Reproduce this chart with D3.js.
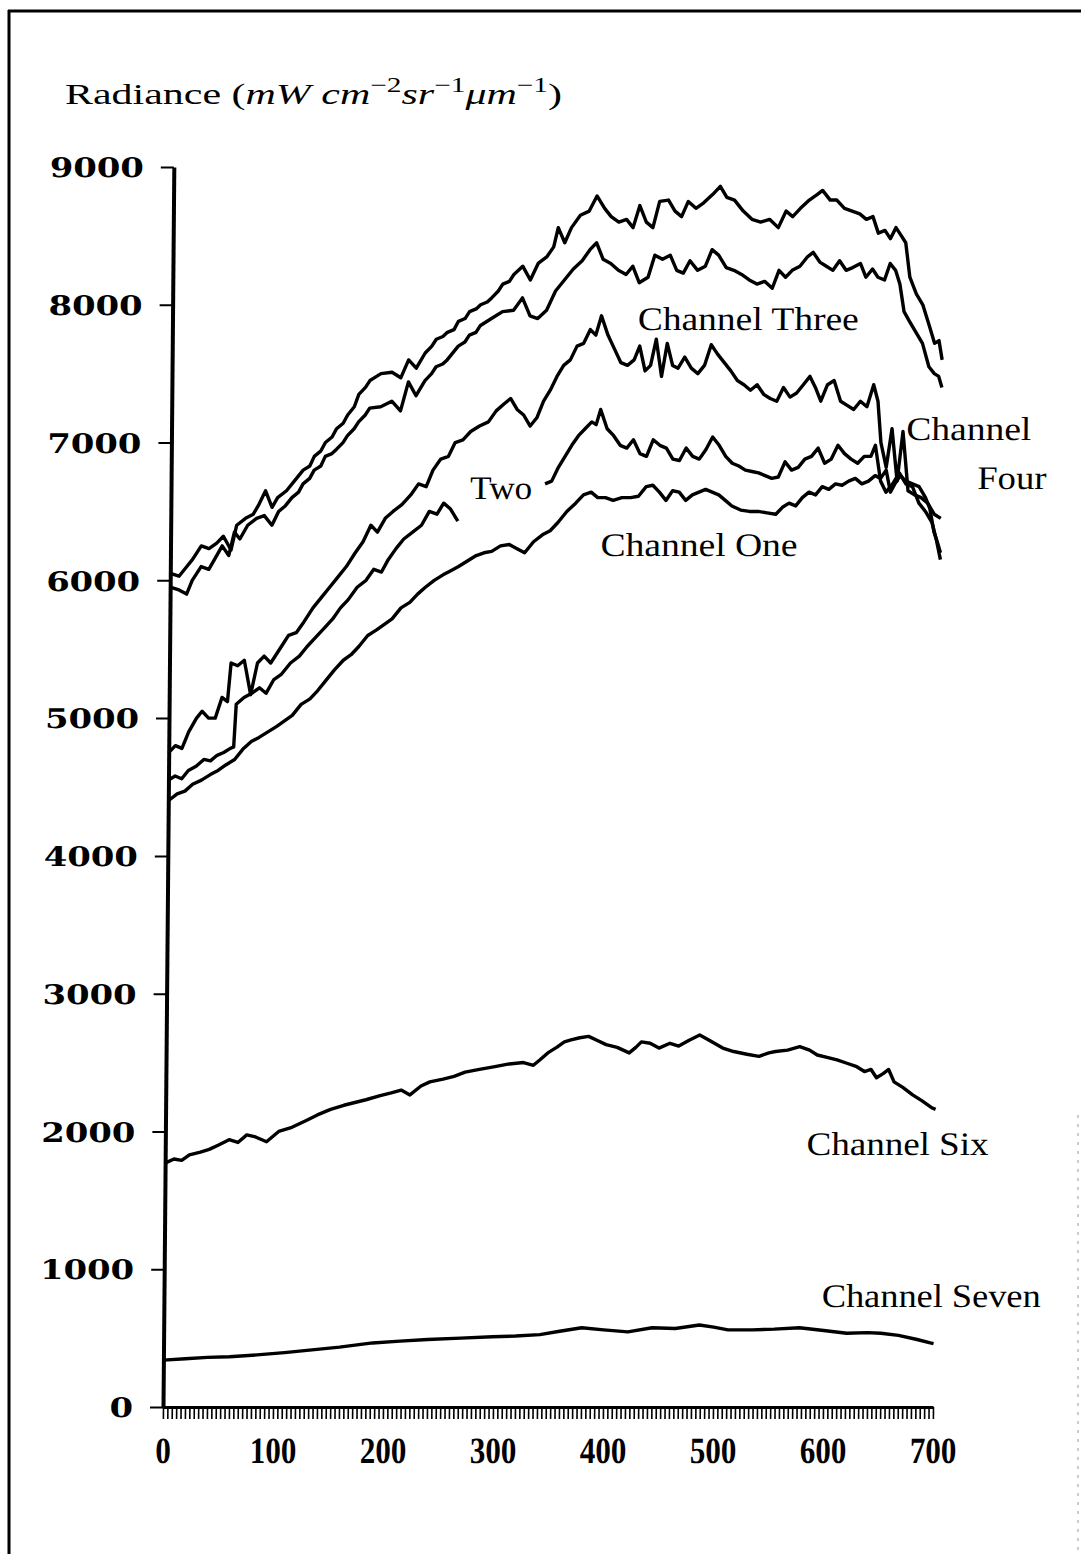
<!DOCTYPE html>
<html>
<head>
<meta charset="utf-8">
<script src="https://cdn.jsdelivr.net/npm/d3@7"></script>
<style>
  body { margin: 0; background: #fff; }
  svg { display: block; }
  .serif { font-family: "Liberation Serif", "DejaVu Serif", serif; }
</style>
</head>
<body>
<svg id="chart" width="1081" height="1554"></svg>
<script>
// tick labels
const xTickLabels = [0, 100, 200, 300, 400, 500, 600, 700];
const yTickLabels = [0, 1000, 2000, 3000, 4000, 5000, 6000, 7000, 8000, 9000];

// traces, [pixel index, radiance]
const channelFive = [
  [0, 6050], [8, 6030], [15, 6100], [20, 6150], [28, 6250], [35, 6230], [42, 6270], [48, 6320], [55, 6220],
  [60, 6400], [68, 6450], [75, 6480], [80, 6550], [86, 6650], [92, 6530], [97, 6600], [105, 6650],
  [112, 6720], [120, 6800], [126, 6830], [130, 6900], [136, 6940], [140, 7000], [146, 7040], [150, 7100],
  [156, 7140], [160, 7200], [166, 7260], [170, 7350], [176, 7400], [180, 7450], [186, 7480], [190, 7500],
  [200, 7510], [208, 7470], [215, 7600], [222, 7540], [230, 7650], [236, 7700],
  [240, 7750], [246, 7770], [250, 7800], [256, 7820], [260, 7880], [266, 7900], [270, 7950], [276, 7970],
  [280, 8000], [286, 8020], [290, 8050], [296, 8100], [300, 8150], [306, 8170],
  [310, 8220], [318, 8280], [325, 8180], [332, 8300], [340, 8350], [346, 8420], [350, 8560],
  [356, 8450], [362, 8560], [370, 8650], [378, 8680], [385, 8790], [392, 8700], [398, 8640],
  [405, 8600], [412, 8620], [418, 8560], [424, 8720], [430, 8600], [436, 8560], [442, 8750],
  [450, 8760], [456, 8680], [462, 8640], [468, 8750], [475, 8700], [482, 8740], [490, 8800],
  [497, 8860], [503, 8780], [510, 8760], [518, 8680], [526, 8620], [534, 8600], [542, 8620],
  [550, 8560], [557, 8680], [563, 8640], [570, 8700], [578, 8760], [585, 8800], [590, 8830],
  [597, 8760], [603, 8760], [610, 8700], [617, 8680], [624, 8660], [630, 8620], [636, 8640],
  [641, 8520], [647, 8540], [652, 8480], [657, 8560], [662, 8500], [666, 8450], [670, 8200],
  [676, 8080], [682, 8000], [688, 7850], [693, 7720], [697, 7740], [700, 7600]
];

const channelThree = [
  [0, 5950], [8, 5930], [15, 5900], [20, 6000], [28, 6100], [35, 6080], [40, 6150], [47, 6250],
  [53, 6180], [58, 6350], [63, 6300], [70, 6400], [78, 6450], [85, 6470], [92, 6400], [98, 6500],
  [104, 6540], [110, 6600], [116, 6640], [120, 6700], [126, 6740], [130, 6800], [136, 6830], [140, 6900],
  [146, 6920], [150, 6950], [156, 7000], [160, 7050], [166, 7100], [170, 7150], [176, 7200],
  [180, 7250], [190, 7260], [200, 7300], [208, 7230], [215, 7440], [222, 7340], [230, 7450],
  [236, 7500], [240, 7550], [246, 7570], [250, 7600], [256, 7660], [260, 7700], [266, 7730],
  [270, 7780], [276, 7800], [280, 7850], [290, 7900], [300, 7950],
  [310, 7960], [318, 8050], [325, 7920], [332, 7900], [340, 7960], [348, 8100], [356, 8180],
  [364, 8260], [372, 8320], [379, 8400], [385, 8450], [391, 8330], [398, 8300], [405, 8250],
  [412, 8220], [418, 8280], [424, 8160], [432, 8200], [438, 8360], [445, 8330], [452, 8360],
  [458, 8250], [464, 8230], [470, 8320], [477, 8250], [484, 8280], [490, 8400], [496, 8360],
  [503, 8270], [510, 8250], [517, 8220], [524, 8180], [531, 8150], [538, 8170], [545, 8120],
  [551, 8250], [557, 8200], [563, 8250], [570, 8280], [577, 8350], [582, 8380], [588, 8310],
  [594, 8280], [600, 8250], [606, 8320], [612, 8250], [618, 8270], [625, 8300], [630, 8200],
  [636, 8260], [641, 8200], [647, 8180], [652, 8300], [657, 8250], [661, 8150], [665, 7950],
  [670, 7880], [676, 7800], [682, 7720], [688, 7550], [693, 7500], [697, 7480], [700, 7400]
];

const channelFour = [
  [0, 4750], [6, 4800], [12, 4780], [18, 4900], [25, 5000], [30, 5050], [36, 5000], [42, 5000],
  [48, 5150], [53, 5120], [56, 5400], [62, 5380], [68, 5420], [74, 5170], [80, 5400], [86, 5450],
  [92, 5400], [100, 5500], [108, 5600], [115, 5620], [122, 5700], [130, 5800], [138, 5880],
  [145, 5950], [152, 6020], [160, 6100], [168, 6200], [175, 6280], [182, 6400], [188, 6350],
  [195, 6450], [202, 6500], [210, 6550], [218, 6620], [225, 6700], [232, 6680], [238, 6800],
  [245, 6880], [252, 6900], [258, 7000], [265, 7020], [272, 7080], [280, 7120], [288, 7150],
  [295, 7230], [302, 7280], [308, 7320], [314, 7240], [320, 7200], [326, 7120], [332, 7180],
  [338, 7300], [344, 7380], [350, 7480], [356, 7560], [362, 7600], [368, 7700], [374, 7720],
  [380, 7820], [385, 7780], [390, 7920], [396, 7780], [402, 7680], [408, 7580], [414, 7560],
  [420, 7600], [425, 7700], [430, 7520], [435, 7560], [440, 7750], [445, 7480], [450, 7720],
  [455, 7560], [460, 7540], [466, 7620], [472, 7540], [478, 7500], [484, 7560], [490, 7710],
  [496, 7640], [502, 7580], [508, 7520], [514, 7450], [520, 7420], [526, 7380], [532, 7420],
  [538, 7350], [544, 7320], [550, 7300], [556, 7400], [562, 7330], [568, 7360], [574, 7420],
  [580, 7480], [585, 7400], [590, 7300], [596, 7420], [602, 7450], [608, 7300], [614, 7270],
  [620, 7240], [626, 7300], [632, 7260], [638, 7420], [642, 7300], [645, 7000], [650, 6820],
  [655, 7100], [660, 6720], [665, 7080], [670, 6650], [676, 6620], [682, 6600], [688, 6560],
  [694, 6480], [700, 6450]
];

// null marks the break left for the "Two" label
const channelTwo = [
  [0, 4550], [6, 4580], [12, 4560], [18, 4620], [25, 4650], [32, 4700], [38, 4690], [44, 4730],
  [50, 4750], [56, 4780], [59, 4790], [61, 5100], [68, 5150], [75, 5180], [82, 5220], [88, 5180],
  [95, 5280], [102, 5320], [110, 5400], [118, 5450], [125, 5520], [132, 5580], [140, 5650],
  [148, 5720], [155, 5800], [162, 5860], [170, 5950], [178, 6000], [185, 6080], [192, 6060],
  [198, 6150], [205, 6230], [212, 6300], [220, 6350], [228, 6400], [235, 6500], [242, 6480],
  [248, 6560], [254, 6520], [261, 6430], [262, null],
  [338, null], [340, 6700], [346, 6720], [352, 6820], [358, 6900], [364, 6980], [370, 7050],
  [376, 7100], [382, 7150], [386, 7130], [390, 7240], [396, 7100], [402, 7050], [408, 6980],
  [414, 6960], [420, 7020], [426, 6920], [432, 6900], [438, 7020], [444, 6980], [450, 6960],
  [456, 6880], [462, 6870], [468, 6960], [474, 6900], [480, 6880], [486, 6950], [492, 7040],
  [498, 6980], [504, 6900], [510, 6850], [516, 6830], [522, 6800], [528, 6790], [534, 6780],
  [540, 6760], [546, 6740], [552, 6750], [558, 6860], [564, 6800], [570, 6820], [576, 6880],
  [582, 6900], [588, 6960], [594, 6850], [600, 6880], [606, 6980], [612, 6920], [618, 6880],
  [624, 6850], [630, 6900], [636, 6900], [640, 6980], [645, 6720], [650, 6640], [656, 6700],
  [662, 6780], [668, 6700], [674, 6680], [680, 6560], [686, 6500], [692, 6420], [696, 6300],
  [700, 6150]
];

const channelOne = [
  [0, 4400], [8, 4450], [15, 4470], [22, 4520], [30, 4550], [38, 4590], [45, 4620], [52, 4660],
  [60, 4700], [68, 4780], [75, 4830], [82, 4860], [90, 4900], [98, 4940], [105, 4980], [112, 5020],
  [120, 5100], [128, 5140], [135, 5200], [142, 5270], [150, 5350], [158, 5420], [165, 5460],
  [172, 5520], [180, 5600], [188, 5640], [195, 5680], [202, 5720], [210, 5800], [218, 5840],
  [225, 5900], [232, 5950], [240, 6000], [248, 6040], [255, 6070], [262, 6100], [270, 6140],
  [278, 6180], [285, 6200], [292, 6210], [300, 6250], [308, 6260], [315, 6230], [322, 6200],
  [330, 6280], [338, 6330], [345, 6360], [352, 6420], [360, 6500], [368, 6560], [375, 6620],
  [382, 6640], [388, 6600], [395, 6600], [402, 6580], [410, 6600], [418, 6600], [425, 6610],
  [432, 6680], [438, 6690], [444, 6640], [450, 6580], [456, 6650], [462, 6640], [468, 6580],
  [474, 6620], [480, 6640], [486, 6660], [492, 6640], [498, 6620], [504, 6580], [510, 6540],
  [518, 6510], [526, 6500], [534, 6500], [542, 6490], [550, 6480], [556, 6530], [562, 6560],
  [568, 6540], [574, 6600], [580, 6640], [586, 6620], [592, 6680], [598, 6660], [604, 6700],
  [610, 6690], [616, 6720], [622, 6740], [628, 6700], [634, 6720], [640, 6760], [645, 6740],
  [650, 6800], [654, 6640], [658, 6700], [663, 6760], [668, 6720], [674, 6700], [680, 6680],
  [686, 6600], [690, 6520], [694, 6350], [697, 6280], [700, 6200]
];

const channelSix = [
  [0, 1770], [8, 1800], [15, 1790], [22, 1830], [32, 1850], [40, 1870], [48, 1900], [58, 1940],
  [66, 1920], [74, 1975], [82, 1960], [92, 1925], [103, 2000], [115, 2030], [128, 2080],
  [138, 2120], [150, 2160], [162, 2190], [172, 2210], [182, 2230], [195, 2260], [205, 2280],
  [214, 2300], [222, 2265], [232, 2330], [240, 2360], [252, 2380], [262, 2400], [272, 2430],
  [285, 2450], [299, 2470], [312, 2490], [325, 2500], [334, 2480], [340, 2520], [347, 2570],
  [355, 2610], [362, 2650], [368, 2665], [376, 2680], [384, 2690], [392, 2660], [400, 2630],
  [410, 2610], [421, 2570], [427, 2610], [432, 2650], [440, 2640], [448, 2605], [458, 2640],
  [466, 2620], [475, 2660], [485, 2700], [494, 2660], [506, 2605], [516, 2580], [528, 2560],
  [539, 2545], [548, 2570], [554, 2580], [565, 2590], [576, 2615], [585, 2590], [592, 2555],
  [600, 2540], [610, 2520], [619, 2495], [628, 2470], [635, 2435], [641, 2450], [646, 2390],
  [652, 2420], [657, 2450], [662, 2360], [670, 2320], [679, 2265], [688, 2220], [697, 2170],
  [700, 2160]
];

const channelSeven = [
  [0, 340], [20, 350], [40, 360], [60, 365], [85, 378], [110, 395], [135, 415], [160, 435],
  [190, 465], [215, 478], [240, 490], [270, 500], [299, 510], [320, 515], [342, 525], [360, 550],
  [380, 575], [400, 560], [422, 545], [444, 575], [465, 570], [487, 595], [500, 580],
  [513, 560], [535, 560], [555, 565], [578, 575], [600, 555], [621, 535], [640, 540],
  [652, 535], [668, 520], [685, 490], [697, 465], [700, 460]
];

const traces = [channelFive, channelThree, channelFour, channelTwo, channelOne, channelSix, channelSeven];

// curve labels, anchored in data space
const curveLabels = [
  { text: "Channel Three", x: 423, y: 7820, w: 221 },
  { text: "Channel", x: 668, y: 7022, w: 125 },
  { text: "Four", x: 733, y: 6660, w: 69 },
  { text: "Two", x: 272, y: 6587, w: 62 },
  { text: "Channel One", x: 391, y: 6173, w: 197 },
  { text: "Channel Six", x: 583, y: 1830, w: 182 },
  { text: "Channel Seven", x: 598, y: 726, w: 219 }
];

const svg = d3.select("#chart");
const baseY = 1407;

// frame of the scanned page
svg.append("line").attr("x1", 8).attr("x2", 1081).attr("y1", 11).attr("y2", 11)
  .attr("stroke", "#000").attr("stroke-width", 3);
svg.append("line").attr("x1", 9).attr("x2", 9).attr("y1", 10).attr("y2", 1554)
  .attr("stroke", "#000").attr("stroke-width", 3);
svg.append("line").attr("x1", 1078).attr("x2", 1078).attr("y1", 1115).attr("y2", 1554)
  .attr("stroke", "#999").attr("stroke-width", 1).attr("stroke-dasharray", "3,6");

// title
const title = svg.append("text").attr("class", "serif")
  .attr("x", 65).attr("y", 104).attr("font-size", 30).attr("fill", "#000")
  .attr("textLength", 497).attr("lengthAdjust", "spacingAndGlyphs");
title.append("tspan").text("Radiance (");
title.append("tspan").attr("font-style", "italic").text("mW cm");
title.append("tspan").attr("font-size", 21).attr("dy", -12).text("−2");
title.append("tspan").attr("font-style", "italic").attr("dy", 12).text("sr");
title.append("tspan").attr("font-size", 21).attr("dy", -12).text("−1");
title.append("tspan").attr("font-style", "italic").attr("dy", 12).text("μm");
title.append("tspan").attr("font-size", 21).attr("dy", -12).text("−1");
title.append("tspan").attr("dy", 12).text(")");

// the scan is slightly sheared, so the plot leans a little
const g = svg.append("g")
  .attr("transform", `translate(0,${baseY}) skewX(-0.5) translate(0,${-baseY})`);

const x = d3.scaleLinear().domain([0, 700]).range([163, 933]);
const y = d3.scaleLinear().domain([0, 9000]).range([baseY, 167]);

// y axis
const yAxis = g.append("g").attr("transform", `translate(${x(0)},0)`)
  .call(d3.axisLeft(y).tickValues(yTickLabels).tickFormat(d3.format("d"))
    .tickSize(13).tickPadding(17).tickSizeOuter(0));
yAxis.select(".domain").attr("stroke-width", 4);
yAxis.selectAll(".tick line").attr("stroke-width", 2);
yAxis.selectAll(".tick text")
  .attr("font-family", "'DejaVu Serif', serif").attr("font-weight", "bold").attr("font-size", 27)
  .attr("fill", "#000").attr("dy", "0.36em")
  .attr("textLength", d => String(d).length * 23.5).attr("lengthAdjust", "spacingAndGlyphs");

// x axis: dense minor ticks
const xMinor = g.append("g").attr("transform", `translate(0,${baseY})`)
  .call(d3.axisBottom(x).tickValues(d3.range(0, 701, 4)).tickSize(12).tickFormat("").tickSizeOuter(0));
xMinor.select(".domain").attr("stroke-width", 3);
xMinor.selectAll(".tick line").attr("stroke-width", 1.6);

const xLab = g.append("g").attr("transform", `translate(0,${baseY})`)
  .call(d3.axisBottom(x).tickValues(xTickLabels).tickSize(0).tickPadding(30));
xLab.select(".domain").remove();
xLab.selectAll(".tick text")
  .attr("font-family", "'Liberation Serif', serif").attr("font-weight", "bold").attr("font-size", 37)
  .attr("fill", "#000")
  .attr("textLength", d => String(d).length * 15.5).attr("lengthAdjust", "spacingAndGlyphs");

// traces
const line = d3.line()
  .defined(d => d[1] !== null)
  .x(d => x(d[0]))
  .y(d => y(d[1]))
  .curve(d3.curveLinear);

g.append("g").selectAll("path").data(traces).join("path")
  .attr("d", line)
  .attr("fill", "none")
  .attr("stroke", "#000")
  .attr("stroke-width", 3.4)
  .attr("stroke-linejoin", "round");

// labels
g.append("g").selectAll("text").data(curveLabels).join("text")
  .attr("class", "serif")
  .attr("x", d => x(d.x)).attr("y", d => y(d.y))
  .attr("font-size", 33)
  .attr("fill", "#000")
  .attr("textLength", d => d.w).attr("lengthAdjust", "spacingAndGlyphs")
  .text(d => d.text);
</script>
</body>
</html>
